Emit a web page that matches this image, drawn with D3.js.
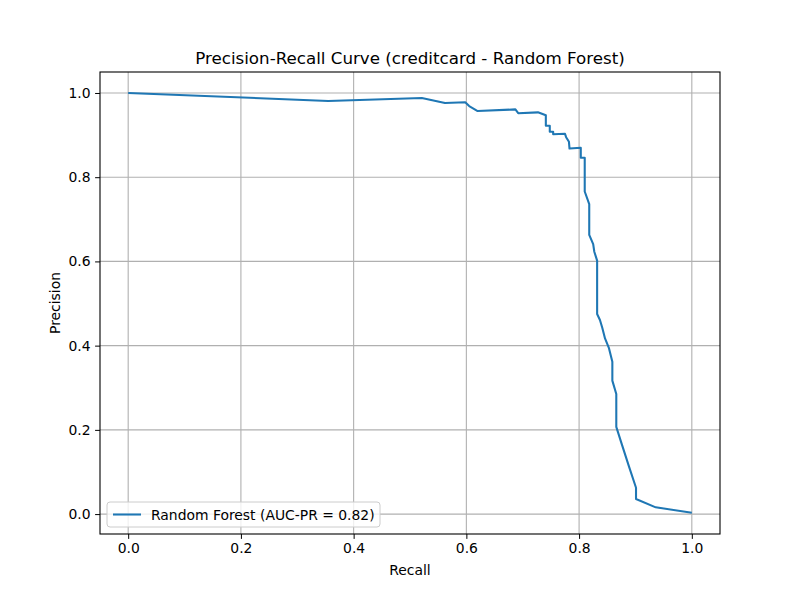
<!DOCTYPE html>
<html>
<head>
<meta charset="utf-8">
<script src="https://cdn.jsdelivr.net/npm/d3@7"></script>
<style>
  body { margin: 0; background: #fff; }
  svg { font-family: "DejaVu Sans", sans-serif; }
  .grid line { stroke: #b0b0b0; stroke-width: 1.1px; }
  .axis text { font-size: 13.9px; fill: #000; }
  .axis line, .axis path { stroke: #000; }
</style>
</head>
<body>
<div id="chart"></div>
<script>
// curve points
const recall = [0.0, 0.355, 0.521, 0.562, 0.598, 0.605, 0.620, 0.687, 0.692, 0.727, 0.741, 0.741,
  0.748, 0.748, 0.754, 0.754, 0.775, 0.777, 0.782, 0.783, 0.803, 0.803, 0.810, 0.810, 0.818, 0.818,
  0.825, 0.827, 0.832, 0.832, 0.837, 0.841, 0.846, 0.853, 0.859, 0.859, 0.866, 0.866, 0.876, 0.888,
  0.901, 0.901, 0.936, 1.0];
const precision = [1.0, 0.981, 0.988, 0.976, 0.978, 0.969, 0.957, 0.961, 0.952, 0.954, 0.947, 0.922,
  0.922, 0.908, 0.908, 0.902, 0.903, 0.895, 0.884, 0.868, 0.870, 0.846, 0.846, 0.766, 0.736, 0.663,
  0.641, 0.623, 0.602, 0.475, 0.461, 0.443, 0.417, 0.394, 0.362, 0.317, 0.285, 0.207, 0.165, 0.115,
  0.0625, 0.036, 0.016, 0.003];
const xTicks = [0.0, 0.2, 0.4, 0.6, 0.8, 1.0];
const yTicks = [0.0, 0.2, 0.4, 0.6, 0.8, 1.0];
const legendLabel = "Random Forest (AUC-PR = 0.82)";

const width = 800, height = 600;
const margin = { left: 100, right: 80, top: 72, bottom: 66 };
const plotW = width - margin.left - margin.right;
const plotH = height - margin.top - margin.bottom;

const svg = d3.select("#chart").append("svg")
  .attr("width", width)
  .attr("height", height);

const x = d3.scaleLinear().domain([-0.05, 1.05]).range([0, plotW]);
const y = d3.scaleLinear().domain([-0.0473, 1.0498]).range([plotH, 0]);

const g = svg.append("g")
  .attr("transform", "translate(" + margin.left + "," + margin.top + ")");

// grid
g.append("g").attr("class", "grid")
  .selectAll("line.vx").data(xTicks).enter().append("line")
  .attr("x1", d => x(d)).attr("x2", d => x(d))
  .attr("y1", 0).attr("y2", plotH);
g.append("g").attr("class", "grid")
  .selectAll("line.hy").data(yTicks).enter().append("line")
  .attr("x1", 0).attr("x2", plotW)
  .attr("y1", d => y(d)).attr("y2", d => y(d));

// curve
const pts = recall.map((r, i) => [r, precision[i]]);
g.append("path")
  .datum(pts)
  .attr("fill", "none")
  .attr("stroke", "#1f77b4")
  .attr("stroke-width", 2.08)
  .attr("stroke-linejoin", "round")
  .attr("d", d3.line().x(d => x(d[0])).y(d => y(d[1])));

// axes
const xAxis = d3.axisBottom(x).tickValues(xTicks).tickFormat(d3.format(".1f"))
  .tickSize(4.9).tickPadding(4.5).tickSizeOuter(0);
const yAxis = d3.axisLeft(y).tickValues(yTicks).tickFormat(d3.format(".1f"))
  .tickSize(4.9).tickPadding(4.5).tickSizeOuter(0);

g.append("g").attr("class", "axis x")
  .attr("transform", "translate(0," + plotH + ")")
  .call(xAxis)
  .call(a => a.select(".domain").remove())
  .selectAll("text").attr("font-family", "DejaVu Sans").attr("font-size", 13.9);
g.append("g").attr("class", "axis y")
  .call(yAxis)
  .call(a => a.select(".domain").remove())
  .selectAll("text").attr("font-family", "DejaVu Sans").attr("font-size", 13.9);

// frame
g.append("rect")
  .attr("width", plotW).attr("height", plotH)
  .attr("fill", "none").attr("stroke", "#000").attr("stroke-width", 1.1);

// labels
svg.append("text")
  .attr("x", margin.left + plotW / 2).attr("y", 64)
  .attr("text-anchor", "middle")
  .attr("font-size", 16.7)
  .text("Precision-Recall Curve (creditcard - Random Forest)");

svg.append("text")
  .attr("x", margin.left + plotW / 2).attr("y", 575)
  .attr("text-anchor", "middle")
  .attr("font-size", 13.9)
  .text("Recall");

svg.append("text")
  .attr("transform", "translate(60," + (margin.top + plotH / 2) + ") rotate(-90)")
  .attr("text-anchor", "middle")
  .attr("font-size", 13.9)
  .text("Precision");

// legend
const leg = g.append("g").attr("transform", "translate(7," + (plotH - 32) + ")");
leg.append("rect")
  .attr("width", 273).attr("height", 25)
  .attr("rx", 3)
  .attr("fill", "#fff").attr("fill-opacity", 0.8)
  .attr("stroke", "#cccccc").attr("stroke-width", 1);
leg.append("line")
  .attr("x1", 6).attr("x2", 34)
  .attr("y1", 12.5).attr("y2", 12.5)
  .attr("stroke", "#1f77b4").attr("stroke-width", 2.08);
leg.append("text")
  .attr("x", 44).attr("y", 17.5)
  .attr("font-size", 13.9)
  .text(legendLabel);
</script>
</body>
</html>
